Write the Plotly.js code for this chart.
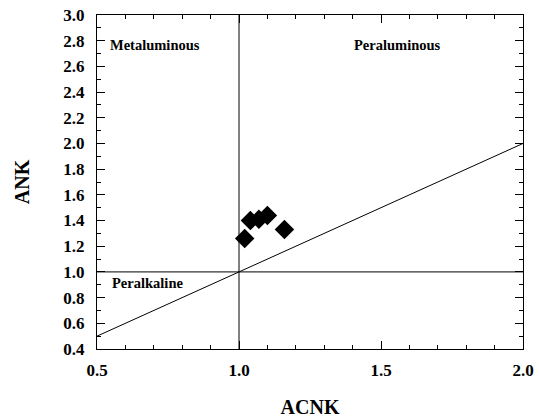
<!DOCTYPE html>
<html>
<head>
<meta charset="utf-8">
<script src="https://cdn.plot.ly/plotly-3.0.1.min.js"></script>
<style>html,body{margin:0;padding:0;background:#fff;}#chart{width:539px;height:419px;}</style>
</head>
<body>
<div id="chart"></div>
<script>
// Sample data (ACNK vs ANK)
var acnk = [1.02, 1.04, 1.07, 1.10, 1.16];
var ank  = [1.26, 1.40, 1.41, 1.44, 1.33];

// Reference lines
var vLineX = [1.0, 1.0], vLineY = [0.4, 3.0];
var hLineX = [0.5, 2.0], hLineY = [1.0, 1.0];
var dLineX = [0.5, 2.0], dLineY = [0.5, 2.0];

// Field labels
var fieldNames = ["Metaluminous", "Peraluminous", "Peralkaline"];
var fieldX = [0.539, 1.397, 0.546];
var fieldY = [2.77, 2.77, 0.914];

var serif = "Liberation Serif, Times New Roman, serif";
var lineStyle = {color: "#000", width: 1};

var traces = [
  {x: vLineX, y: vLineY, mode: "lines", line: lineStyle, hoverinfo: "skip"},
  {x: hLineX, y: hLineY, mode: "lines", line: lineStyle, hoverinfo: "skip"},
  {x: dLineX, y: dLineY, mode: "lines", line: lineStyle, hoverinfo: "skip"},
  {x: acnk, y: ank, mode: "markers", type: "scatter",
   marker: {symbol: "diamond", size: 15, color: "#000", line: {width: 0}}}
];

var annotations = fieldNames.map(function (t, i) {
  return {x: fieldX[i], y: fieldY[i], xref: "x", yref: "y", text: "<b>" + t + "</b>",
    showarrow: false, xanchor: "left", yanchor: "middle",
    font: {family: serif, size: 14.5, color: "#000"}};
});

var axisCommon = {
  showgrid: false, zeroline: false, showline: true, linecolor: "#000", linewidth: 1,
  mirror: "ticks", ticks: "inside", ticklen: 8, tickcolor: "#000", tickwidth: 1,
  tickfont: {family: serif, size: 17, color: "#000", weight: "bold"}
};

var layout = {
  width: 539, height: 419,
  margin: {l: 97, r: 16, t: 15, b: 70},
  paper_bgcolor: "#fff", plot_bgcolor: "#fff",
  showlegend: false,
  annotations: annotations,
  xaxis: Object.assign({}, axisCommon, {
    range: [0.5, 2.0], tick0: 0.5, dtick: 0.5, tickformat: ".1f",
    ticklabelstandoff: 6,
    minor: {dtick: 0.1, ticks: "inside", ticklen: 4, tickcolor: "#000", showgrid: false},
    title: {text: "<b>ACNK</b>", font: {family: serif, size: 20, color: "#000"}, standoff: 20}
  }),
  yaxis: Object.assign({}, axisCommon, {
    range: [0.4, 3.0], tick0: 0.4, dtick: 0.2, tickformat: ".1f",
    ticklabelstandoff: 8,
    minor: {dtick: 0.1, ticks: "inside", ticklen: 4, tickcolor: "#000", showgrid: false},
    title: {text: "<b>ANK</b>", font: {family: serif, size: 20, color: "#000"}, standoff: 28}
  })
};

Plotly.newPlot("chart", traces, layout, {staticPlot: true, displayModeBar: false});
</script>
</body>
</html>
